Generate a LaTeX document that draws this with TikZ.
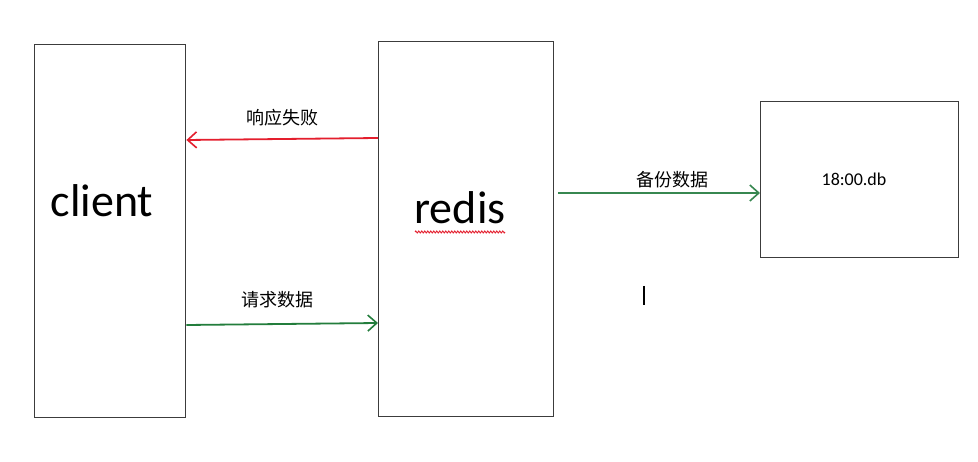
\documentclass[tikz,border=0pt]{standalone}
\usepackage{fontspec}
\setmainfont{Carlito}
\newfontfamily\cjk{Noto Sans CJK SC}
\usetikzlibrary{arrows.meta,decorations.pathmorphing}
\definecolor{boxgray}{RGB}{60,60,60}
\definecolor{arrred}{RGB}{228,30,45}
\definecolor{arrgreen}{RGB}{35,125,60}
\definecolor{arrgreenb}{RGB}{55,135,80}
\begin{document}
\begin{tikzpicture}[x=1pt,y=-1pt,
  blockbox/.style={draw=boxgray,line width=1.4pt,fill=white},
  conn/.style={line width=1.8pt,-{Straight Barb[length=9pt,width=16pt,line width=1.6pt]}},
  lbl/.style={font=\fontsize{18}{20}\selectfont\cjk,inner sep=0pt}]
\useasboundingbox (0,0) rectangle (978,462);
\fill[white] (0,0) rectangle (978,462);
\node[blockbox,minimum width=151pt,minimum height=373pt,anchor=north west] (client) at (34,44) {};
\node[blockbox,minimum width=175pt,minimum height=375pt,anchor=north west] (redis) at (378,41) {};
\node[blockbox,minimum width=198pt,minimum height=156pt,anchor=north west] (db) at (760,101) {};
\node[font=\fontsize{46}{50}\selectfont,anchor=base] (clientt) at (102,217) {client};
\node[font=\fontsize{46}{50}\selectfont,anchor=base] (redist) at (460,224) {redis};
\node[font=\fontsize{18}{20}\selectfont,anchor=base] (dbt) at (854,186) {18:00.db};
\coordinate (rA) at ([yshift=-97pt]redis.north west);
\coordinate (cA) at ([yshift=-96pt]client.north east);
\coordinate (cB) at ([yshift=-281pt]client.north east);
\coordinate (rB) at ([yshift=-282pt]redis.north west);
\coordinate (rC) at ([xshift=4pt,yshift=-152pt]redis.north east);
\coordinate (dC) at ([yshift=-92pt]db.north west);
\draw[conn,draw=arrred] (rA) -- (cA);
\draw[conn,draw=arrgreen] (cB) -- (rB);
\draw[conn,draw=arrgreenb,line width=1.3pt] (rC) -- (dC);
\node[lbl] (l1) at (282,118) {响应失败};
\node[lbl] (l2) at (277,300) {请求数据};
\node[lbl] (l3) at (672,180) {备份数据};
\draw[arrred,line width=0.9pt,decorate,decoration={zigzag,segment length=3pt,amplitude=1pt}] (415,232) -- (505,232);
\draw[black,line width=1.3pt] (644,286) -- (644,305);
\end{tikzpicture}
\end{document}
